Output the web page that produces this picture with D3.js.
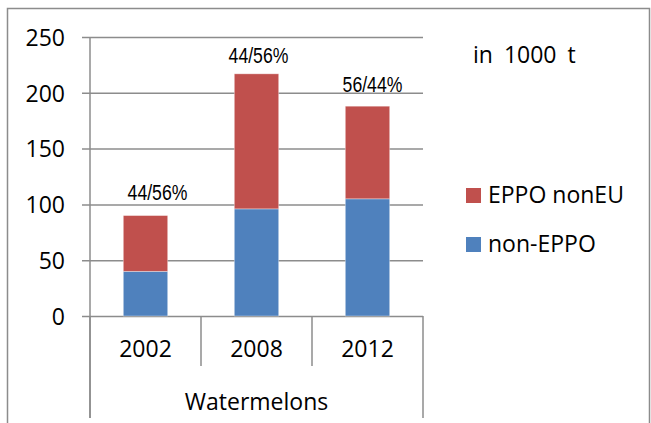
<!DOCTYPE html>
<html>
<head>
<meta charset="utf-8">
<script src="https://cdn.jsdelivr.net/npm/d3@7"></script>
<style>
  html, body { margin: 0; padding: 0; background: #fff; }
  svg { display: block; }
  .lbl { font-family: "Open Sans", "Liberation Sans", sans-serif; fill: #000; }
  .pct { font-family: "Liberation Sans", Arial, sans-serif; fill: #000; }
</style>
</head>
<body>
<script>
// ---- data ----
const categories = ["2002", "2008", "2012"];
const groupLabel = "Watermelons";
const nonEppo = [40, 96, 105];
const eppoNonEU = [50, 121, 83];
const shareLabels = ["44/56%", "44/56%", "56/44%"];
const yTicks = [0, 50, 100, 150, 200, 250];
const seriesNames = ["EPPO nonEU", "non-EPPO"];
const seriesColors = ["#C0504D", "#4F81BD"];
const unitLabel = "in 1000 t";

// ---- layout ----
const W = 651, H = 423;
const plot = { left: 90, right: 423, top: 37, bottom: 316 };
const gridColor = "#8c8c8c";
const FS = 23;

const svg = d3.select("body").append("svg").attr("width", W).attr("height", H);

// outer border
svg.append("path")
  .attr("d", `M7.5,${H} V8.5 H649.5 V${H}`)
  .attr("fill", "none").attr("stroke", gridColor).attr("stroke-width", 1.5);

const y = d3.scaleLinear().domain([0, 250]).range([plot.bottom, plot.top]);
const x = d3.scaleBand().domain(categories).range([plot.left, plot.right])
  .paddingInner(0.6).paddingOuter(0.3);

// gridlines + ticks
const yAxis = d3.axisLeft(y).tickValues(yTicks)
  .tickSize(-(plot.right - plot.left)).tickPadding(0).tickFormat(d3.format("d"));
const gy = svg.append("g").attr("transform", `translate(${plot.left},0)`).call(yAxis);
gy.select(".domain").remove();
gy.selectAll(".tick line").attr("x1", -8).attr("stroke", gridColor).attr("stroke-width", 1.5);
gy.selectAll(".tick text").remove();
gy.selectAll(".tick").append("text")
  .attr("class", "lbl").attr("x", -25).attr("text-anchor", "end")
  .attr("dy", "0.36em").attr("font-size", FS).text(d => d);

// y axis line
svg.append("line").attr("x1", plot.left).attr("x2", plot.left)
  .attr("y1", plot.top).attr("y2", 418).attr("stroke", gridColor).attr("stroke-width", 1.5);

// category dividers
const step = x.step();
const divs = d3.range(categories.length + 1).map(i => plot.left + i * step);
svg.append("g").selectAll("line").data(divs).join("line")
  .attr("x1", d => d).attr("x2", d => d)
  .attr("y1", plot.bottom)
  .attr("y2", (d, i) => (i === 0 || i === categories.length) ? 418 : 366)
  .attr("stroke", gridColor).attr("stroke-width", 1.5);

// stacked bars
const rows = categories.map((c, i) => ({ cat: c, nonEppo: nonEppo[i], eppo: eppoNonEU[i] }));
const stack = d3.stack().keys(["nonEppo", "eppo"])(rows);
const colorByKey = { nonEppo: seriesColors[1], eppo: seriesColors[0] };
svg.append("g").selectAll("g").data(stack).join("g")
  .attr("fill", s => colorByKey[s.key])
  .selectAll("rect").data(s => s).join("rect")
  .attr("x", d => x(d.data.cat))
  .attr("width", x.bandwidth())
  .attr("y", d => y(d[1]))
  .attr("height", d => y(d[0]) - y(d[1]))
  .attr("stroke", "#ffffff").attr("stroke-opacity", 0.45).attr("stroke-width", 0.8);

// share labels (manually placed text boxes in the original), narrow face
const labelNudge = [{ dx: 12, dy: -16 }, { dx: 2, dy: -11 }, { dx: 5, dy: -14 }];
svg.append("g").selectAll("text").data(categories).join("text")
  .attr("class", "pct")
  .attr("transform", (c, i) => {
    const cx = x(c) + x.bandwidth() / 2 + labelNudge[i].dx;
    const cy = y(nonEppo[i] + eppoNonEU[i]) + labelNudge[i].dy;
    return `translate(${cx},${cy}) scale(0.82,1)`;
  })
  .attr("text-anchor", "middle").attr("font-size", 21.5)
  .text((c, i) => shareLabels[i]);

// category labels
svg.append("g").selectAll("text").data(categories).join("text")
  .attr("class", "lbl")
  .attr("x", c => x(c) + x.bandwidth() / 2).attr("y", 357)
  .attr("text-anchor", "middle").attr("font-size", FS).text(c => c);
svg.append("text").attr("class", "lbl")
  .attr("x", (plot.left + plot.right) / 2).attr("y", 410)
  .attr("text-anchor", "middle").attr("font-size", FS).text(groupLabel);

// unit label
svg.append("text").attr("class", "lbl").attr("x", 473).attr("y", 63)
  .attr("font-size", FS).attr("word-spacing", 5).text(unitLabel);

// legend
const lg = svg.append("g").selectAll("g").data(seriesNames).join("g")
  .attr("transform", (d, i) => `translate(466,${188 + i * 49})`);
lg.append("rect").attr("width", 15).attr("height", 15).attr("fill", (d, i) => seriesColors[i]);
lg.append("text").attr("class", "lbl").attr("x", 22).attr("y", 15)
  .attr("font-size", FS).text(d => d);
</script>
</body>
</html>
